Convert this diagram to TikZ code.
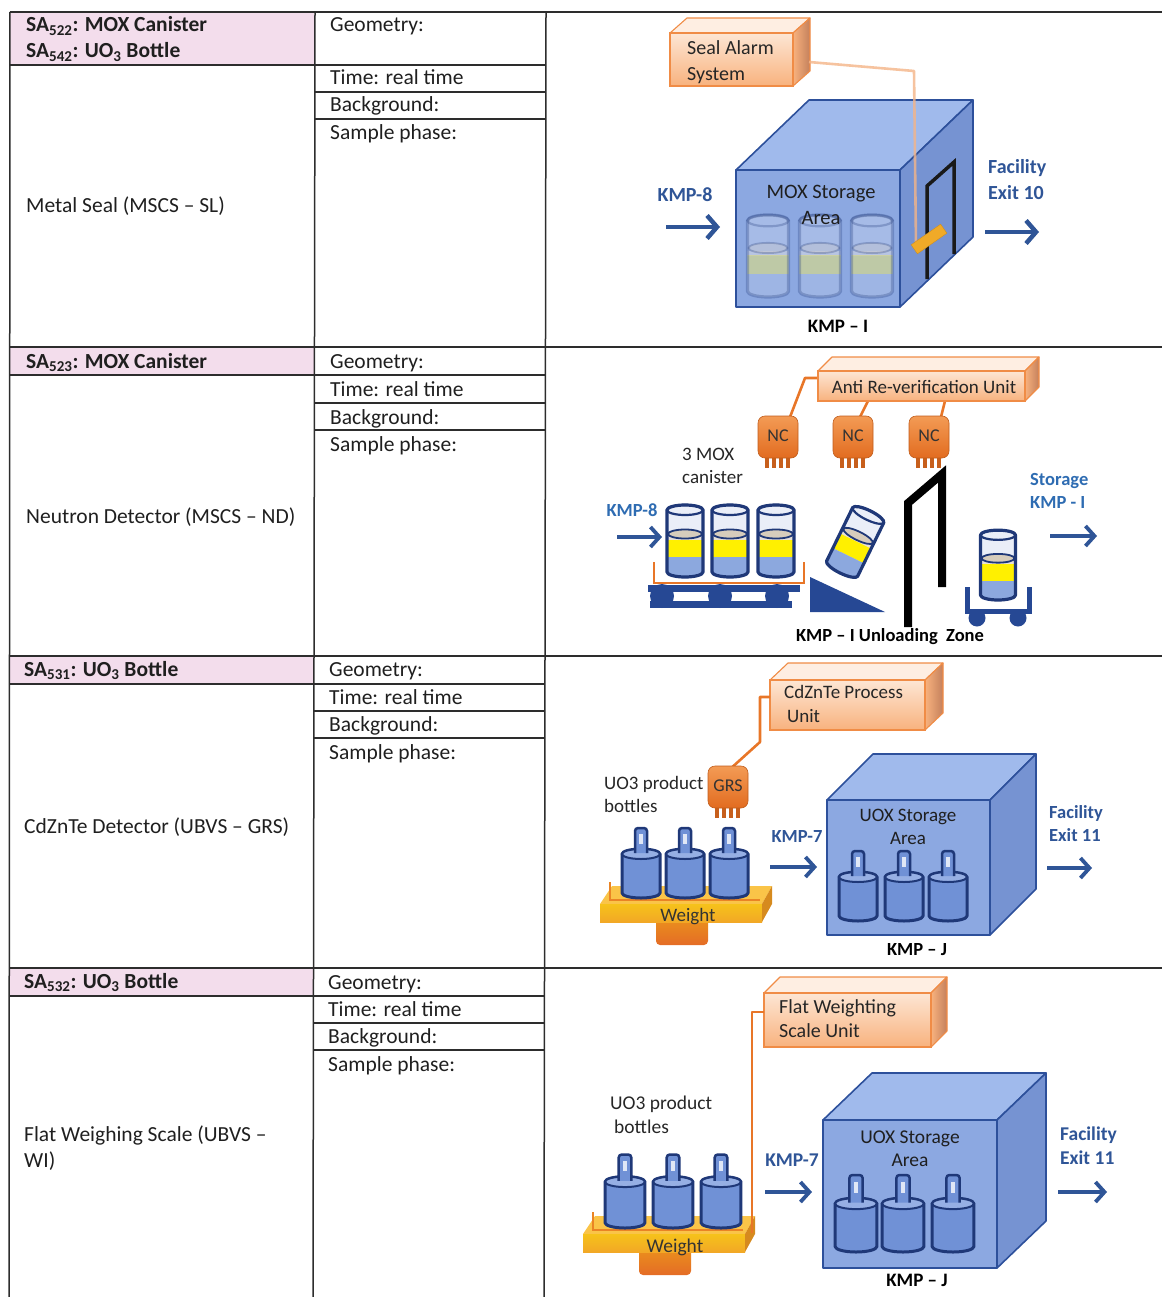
\documentclass[tikz,border=0pt]{standalone}
\usepackage{fontspec}
\setmainfont{Carlito}
\usetikzlibrary{arrows.meta,calc}

\definecolor{gridline}{RGB}{45,45,45}
\definecolor{headpink}{RGB}{243,221,236}
\definecolor{kblue}{RGB}{47,85,151}
\definecolor{kblueL}{RGB}{46,108,178}
\definecolor{navy}{RGB}{31,56,120}
\definecolor{cartblue}{RGB}{38,72,148}
\definecolor{cubefront}{RGB}{140,168,225}
\definecolor{cubetop}{RGB}{160,186,236}
\definecolor{cuberight}{RGB}{118,147,210}
\definecolor{cubeedge}{RGB}{45,80,155}
\definecolor{unitlight}{RGB}{253,230,212}
\definecolor{unittop}{RGB}{254,238,226}
\definecolor{unitmid}{RGB}{248,178,126}
\definecolor{unitedge}{RGB}{240,140,70}
\definecolor{unitdark}{RGB}{196,128,92}
\definecolor{wire}{RGB}{232,118,40}
\definecolor{sealwirecol}{RGB}{244,180,135}
\definecolor{ncorange}{RGB}{226,108,32}
\definecolor{nclight}{RGB}{243,155,85}
\definecolor{canyellow}{RGB}{255,240,0}
\definecolor{canblue}{RGB}{140,168,222}
\definecolor{canglass}{RGB}{234,238,248}
\definecolor{canlid}{RGB}{214,204,188}
\definecolor{bottleblue}{RGB}{112,145,214}
\definecolor{bottletop}{RGB}{150,175,228}
\definecolor{goldtop}{RGB}{250,196,72}
\definecolor{goldfront}{RGB}{242,168,38}
\definecolor{goldside}{RGB}{214,138,30}
\definecolor{basecol}{RGB}{228,108,38}
\definecolor{tagcol}{RGB}{240,170,40}

\tikzset{
  gridl/.style={line width=1.5pt, draw=gridline},
  celltxt/.style={anchor=base west, inner sep=0pt, font=\fontsize{21.5}{26}\selectfont, text=black!88},
  headtxt/.style={celltxt, font=\fontsize{21.5}{26}\selectfont\bfseries},
  flowlbl/.style={inner sep=0pt, align=left, font=\fontsize{20}{26}\selectfont\bfseries, text=kblue},
  flowlbls/.style={inner sep=0pt, align=left, font=\fontsize{18.5}{23}\selectfont\bfseries, text=kblueL},
  darklbl/.style={inner sep=0pt, align=left, font=\fontsize{19}{23.5}\selectfont, text=black!85},
  cubetxt/.style={inner sep=0pt, align=center, text=black!88},
  kmplbl/.style={inner sep=0pt, font=\fontsize{19}{23}\selectfont\bfseries, text=black},
  unittxt/.style={inner sep=0pt, align=left, text=black!85},
  flow/.style={draw=kblue, line width=4.5pt, -{Straight Barb[length=10pt,width=23pt]}},
  flowthin/.style={draw=kblue, line width=3.8pt, -{Straight Barb[length=9pt,width=20pt]}},
  cubeface/.style={draw=cubeedge, line width=1.6pt, line join=round},
  unitfront/.style={draw=unitedge, line width=1.1pt, top color=unitlight, bottom color=unitmid, inner sep=0pt},
  wirestyle/.style={draw=wire, line width=2.6pt, line join=round},
  tagstyle/.style={fill=tagcol, draw=tagcol!85!black, line width=0.4pt, minimum width=36pt, minimum height=11pt, inner sep=0pt},
  canister/.pic={
    \fill[canglass] (-18,-67) -- (-18,-5) arc[start angle=180,end angle=0,x radius=18,y radius=5]
      -- (18,-67) arc[start angle=0,end angle=-180,x radius=18,y radius=5] -- cycle;
    \begin{scope}
      \clip (-18,-67) -- (-18,-5) arc[start angle=180,end angle=0,x radius=18,y radius=5]
        -- (18,-67) arc[start angle=0,end angle=-180,x radius=18,y radius=5] -- cycle;
      \fill[canlid!60!white] (-20,-40) rectangle (20,-36);
      \fill[canyellow] (-20,-37) rectangle (20,-20);
      \fill[canblue] (-20,-20) rectangle (20,2);
    \end{scope}
    \filldraw[draw=navy, line width=1.8pt, fill=canlid] (0,-43) ellipse[x radius=17, y radius=4.5];
    \draw[navy, line width=3.2pt, line join=round] (-18,-67) -- (-18,-5) arc[start angle=180,end angle=0,x radius=18,y radius=5]
      -- (18,-67) arc[start angle=0,end angle=-180,x radius=18,y radius=5] -- cycle;
    \draw[navy, line width=2.2pt] (0,-67) ellipse[x radius=18, y radius=5];
  },
  bottle/.pic={
    \filldraw[fill=bottleblue, draw=navy, line width=3pt, line join=round]
      (-19,-44) -- (-19,-5) arc[start angle=180,end angle=0,x radius=19,y radius=5]
      -- (19,-44) arc[start angle=0,end angle=-180,x radius=19,y radius=5] -- cycle;
    \filldraw[fill=bottletop, draw=navy, line width=2pt] (0,-44) ellipse[x radius=19, y radius=5];
    \filldraw[fill=bottleblue, draw=navy, line width=2.5pt, rounded corners=3pt] (-6,-45) -- (-6,-70) -- (6,-70) -- (6,-45);
    \fill[white!78!bottleblue] (-2,-64) rectangle (2,-54);
  },
  ncbody/.pic={
    \foreach \lx in {-11,-4,3,10} \fill[ncorange!88!black] (\lx-1.8,-2) rectangle (\lx+1.8,10);
    \shadedraw[top color=nclight, bottom color=ncorange, draw=ncorange!85!black, line width=0.6pt, rounded corners=7pt]
      (-20,-42) rectangle (20,0);
  },
  scalebed/.pic={
    \shade[top color=basecol!75!yellow, bottom color=basecol, rounded corners=4pt] (56,-4) rectangle (108,23);
    \fill[goldtop] (12,-36) -- (172,-36) -- (162,-18) -- (0,-18) -- cycle;
    \shade[top color=goldfront!70!yellow, bottom color=goldfront] (0,-18) rectangle (162,0);
    \fill[goldside] (162,-18) -- (172,-36) -- (172,-18) -- (162,0) -- cycle;
    \draw[wire!90!yellow, line width=1.2pt] (10,-40) -- (10,-22) -- (160,-22);
  }
}

% three-dimensional storage room: front face corners and depth
\newcommand\storecube[6]{%
  \filldraw[cubeface, fill=cubetop] (#1,#2) -- (#1+#5,#2-#6) -- (#3+#5,#2-#6) -- (#3,#2) -- cycle;
  \filldraw[cubeface, fill=cuberight] (#3,#2) -- (#3+#5,#2-#6) -- (#3+#5,#4-#6) -- (#3,#4) -- cycle;
  \filldraw[cubeface, fill=cubefront] (#1,#2) rectangle (#3,#4);
}
% top and side faces of an orange processing unit
\newcommand\unitfaces[6]{%
  \filldraw[draw=unitedge, line width=1.1pt, fill=unittop, line join=round]
    (#1,#2) -- (#1+#5,#2-#6) -- (#3+#5,#2-#6) -- (#3,#2) -- cycle;
  \shadedraw[draw=unitedge, line width=1.1pt, left color=unitmid, right color=unitdark, line join=round]
    (#3,#2) -- (#3+#5,#2-#6) -- (#3+#5,#4-#6) -- (#3,#4) -- cycle;
}

\begin{document}
\begin{tikzpicture}[x=1pt,y=-1pt]
\useasboundingbox (0,0) rectangle (1162,1297);

%% ---------------- table ----------------
\fill[headpink] (10,12) rectangle (314,65);
\fill[headpink] (10,347) rectangle (314,375);
\fill[headpink] (10,656) rectangle (314,684);
\fill[headpink] (10,968) rectangle (314,996);

\draw[gridl] (10,12) -- (1162,12);
\foreach \yy in {347,656,968} \draw[gridl] (10,\yy) -- (1162,\yy);
\foreach \yy in {65,375,684,996} \draw[gridl] (10,\yy) -- (545,\yy);
\foreach \yy in {92,119,403,430,711,738,1023,1050} \draw[gridl] (314,\yy) -- (545,\yy);
\draw[gridl] (10,12) -- (9,1297);
\draw[gridl] (315,12) -- (313,1297);
\draw[gridl] (546,12) -- (544,1297);

% row 1
\node[headtxt] (h1a) at (26,32) {SA\textsubscript{522}: MOX Canister};
\node[headtxt] (h1b) at (26,58) {SA\textsubscript{542}: UO\textsubscript{3} Bottle};
\node[celltxt] (g1) at (330,32) {Geometry:};
\node[celltxt] (t1) at (330,85) {Time: real time};
\node[celltxt] (b1) at (330,112) {Background:};
\node[celltxt] (s1) at (330,140) {Sample phase:};
\node[celltxt] (d1) at (26,213) {Metal Seal (MSCS – SL)};
% row 2
\node[headtxt] (h2) at (26,368) {SA\textsubscript{523}: MOX Canister};
\node[celltxt] (g2) at (330,368) {Geometry:};
\node[celltxt] (t2) at (330,396) {Time: real time};
\node[celltxt] (b2) at (330,424) {Background:};
\node[celltxt] (s2) at (330,451) {Sample phase:};
\node[celltxt] (d2) at (26,523) {Neutron Detector (MSCS – ND)};
% row 3
\node[headtxt] (h3) at (24,676) {SA\textsubscript{531}: UO\textsubscript{3} Bottle};
\node[celltxt] (g3) at (329,676) {Geometry:};
\node[celltxt] (t3) at (329,704) {Time: real time};
\node[celltxt] (b3) at (329,731) {Background:};
\node[celltxt] (s3) at (329,759) {Sample phase:};
\node[celltxt] (d3) at (24,833) {CdZnTe Detector (UBVS – GRS)};
% row 4
\node[headtxt] (h4) at (24,988) {SA\textsubscript{532}: UO\textsubscript{3} Bottle};
\node[celltxt] (g4) at (328,989) {Geometry:};
\node[celltxt] (t4) at (328,1016) {Time: real time};
\node[celltxt] (b4) at (328,1043) {Background:};
\node[celltxt] (s4) at (328,1071) {Sample phase:};
\node[celltxt] (d4a) at (24,1141) {Flat Weighing Scale (UBVS –};
\node[celltxt] (d4b) at (24,1167) {WI)};

%% ---------------- metal seal ----------------
\unitfaces{670}{33}{793}{86}{17}{15}
\node[unitfront, minimum width=123pt, minimum height=53pt] (seal) at (731.5,59.5) {};
\node[unittxt, anchor=west, font=\fontsize{20}{26}\selectfont] (sealtxt) at (687,62) {Seal Alarm\\System};

\storecube{736}{170}{900}{307}{73}{70}
\begin{scope}[opacity=0.28]
  \pic[scale=1.14] at (768,297) {canister};
  \pic[scale=1.14] at (820,297) {canister};
  \pic[scale=1.14] at (872,297) {canister};
\end{scope}
\node[cubetxt, font=\fontsize{20.5}{26}\selectfont] (moxarea) at (821,205) {MOX Storage\\Area};
\draw[line width=3.5pt, black!90, line join=miter] (927,279) -- (927,186) -- (954,162) -- (954,254);
\coordinate (sealport) at (809,62);
\coordinate (sealbend) at (914,71);
\coordinate (sealend) at (916,246);
\draw[sealwirecol, line width=2.6pt, opacity=0.8, line join=round] (sealport) -- (sealbend) -- (sealend);
\node[tagstyle, rotate=35] (tag) at (929,239) {};

\node[flowlbl] (kmp8a) at (685,195) {KMP-8};
\coordinate (in1a) at (666,227); \coordinate (in1b) at (720,227);
\draw[flow] (in1a) -- (in1b);
\node[flowlbl, anchor=west] (exit10) at (988,180) {Facility\\Exit 10};
\coordinate (out1a) at (985,232); \coordinate (out1b) at (1039,232);
\draw[flow] (out1a) -- (out1b);
\node[kmplbl] (kmpi) at (838,326) {KMP – I};

%% ---------------- neutron detector ----------------
\coordinate (w1a) at (818,378); \coordinate (w1b) at (805,378); \coordinate (w1c) at (790,417);
\coordinate (w2a) at (868,401); \coordinate (w2c) at (860,417);
\coordinate (w3a) at (945,401); \coordinate (w3c) at (941,417);
\draw[wirestyle] (w1a) -- (w1b) -- (w1c);
\draw[wirestyle] (w2a) -- (w2c);
\draw[wirestyle] (w3a) -- (w3c);
\unitfaces{818}{371}{1025}{401}{14}{14}
\node[unitfront, minimum width=207pt, minimum height=30pt] (anti) at (921.5,386) {};
\node[unittxt, font=\fontsize{19}{23}\selectfont] (antitxt) at (924,387) {Anti Re-verification Unit};

\pic at (778,458) {ncbody};
\pic at (853,458) {ncbody};
\pic at (929,458) {ncbody};
\node[unittxt, font=\fontsize{18}{22}\selectfont, text=black!80] (nc1) at (778,436) {NC};
\node[unittxt, font=\fontsize{18}{22}\selectfont, text=black!80] (nc2) at (853,436) {NC};
\node[unittxt, font=\fontsize{18}{22}\selectfont, text=black!80] (nc3) at (929,436) {NC};

\node[darklbl, anchor=west] (mox3) at (682,466) {3 MOX\\canister};
\node[flowlbls] (kmp8b) at (632,510) {KMP-8};
\coordinate (in2a) at (617,537); \coordinate (in2b) at (662,537);
\draw[flowthin] (in2a) -- (in2b);

% loaded cart
\pic at (685,577) {canister};
\pic at (730,577) {canister};
\pic at (776,577) {canister};
\draw[wire, line width=2.8pt] (654,562) -- (654,583) -- (804,583) -- (804,562);
\fill[cartblue] (648,585) rectangle (800,592);
\fill[cartblue] (650,601) rectangle (792,608);
\foreach \wx in {662,720,777} \fill[cartblue] (\wx,596) circle[radius=12];
% tipping wedge and tilted canister
\fill[cartblue] (810,577) -- (810,612) -- (885,612) -- cycle;
\pic[rotate=-26, scale=0.96] at (840,573) {canister};
% gate
\draw[line width=8pt, black, line join=miter] (908,627) -- (908,503) -- (942,474) -- (942,587);
% trolley
\pic[scale=0.97] at (998,600) {canister};
\draw[cartblue, line width=5pt, line join=miter] (967,587) -- (967,611) -- (1029,611) -- (1029,587);
\fill[cartblue] (977,618) circle[radius=8.5];
\fill[cartblue] (1018,618) circle[radius=8.5];

\node[flowlbls, anchor=west] (stor) at (1030,490.5) {Storage\\KMP - I};
\coordinate (out2a) at (1050,536); \coordinate (out2b) at (1097,536);
\draw[flowthin] (out2a) -- (out2b);
\node[kmplbl, font=\fontsize{18.5}{22}\selectfont\bfseries] (unload) at (890,637) {KMP – I Unloading\ \ Zone};

%% ---------------- CdZnTe detector ----------------
\unitfaces{770}{680}{925}{730}{18}{17}
\node[unitfront, minimum width=155pt, minimum height=50pt] (cdzn) at (847.5,705) {};
\node[unittxt, anchor=west, font=\fontsize{19}{24}\selectfont] (cdzntxt) at (784,704) {CdZnTe Process\\\hspace{3pt}Unit};
\coordinate (w4a) at (770,697); \coordinate (w4b) at (760,697);
\coordinate (w4c) at (760,742); \coordinate (w4d) at (729,770);
\coordinate (w4e) at (729,778);
\draw[wirestyle] (w4a) -- (w4b) -- (w4c) -- (w4d) -- (w4e);
\begin{scope}[shift={(728,808)}, xscale=0.95, yscale=0.8]
  \pic {ncbody};
\end{scope}
\node[unittxt, font=\fontsize{18}{22}\selectfont, text=black!80] (grs) at (728,786) {GRS};
\node[darklbl, anchor=west] (uo3a) at (604,794.5) {UO3 product\\bottles};

\pic at (600,922) {scalebed};
\pic at (641,898) {bottle};
\pic at (685,898) {bottle};
\pic at (729,898) {bottle};
\node[unittxt, font=\fontsize{19}{22}\selectfont, text=black!80] (wt1) at (688,917) {Weight};

\node[flowlbls, text=kblue] (kmp7a) at (797,836) {KMP-7};
\coordinate (in3a) at (770,867); \coordinate (in3b) at (817,867);
\draw[flowthin] (in3a) -- (in3b);

\storecube{827}{800}{990}{935}{46}{46}
\node[cubetxt, font=\fontsize{19}{23}\selectfont] (uoxa) at (908,826.5) {UOX Storage\\Area};
\pic at (858,921) {bottle};
\pic at (904,921) {bottle};
\pic at (948,921) {bottle};
\node[flowlbls, text=kblue, anchor=west] (exit11a) at (1049,823.5) {Facility\\Exit 11};
\coordinate (out3a) at (1047,868); \coordinate (out3b) at (1092,868);
\draw[flowthin] (out3a) -- (out3b);
\node[kmplbl, font=\fontsize{18.5}{22}\selectfont\bfseries] (kmpj1) at (917,950) {KMP – J};

%% ---------------- flat weighing scale ----------------
\unitfaces{764}{993}{931}{1047}{16}{16}
\node[unitfront, minimum width=167pt, minimum height=54pt] (flat) at (847.5,1020) {};
\node[unittxt, anchor=west, font=\fontsize{20}{24}\selectfont] (flattxt) at (779,1019) {Flat Weighting\\Scale Unit};
\node[darklbl, anchor=west, font=\fontsize{19.5}{24}\selectfont] (uo3b) at (610,1115) {UO3 product\\\hspace{4pt}bottles};

\begin{scope}[shift={(583,1252)}, xscale=1.04, yscale=0.95]
  \pic {scalebed};
\end{scope}
\coordinate (w5a) at (764,1012); \coordinate (w5b) at (752,1012); \coordinate (w5c) at (752,1233);
\draw[wirestyle] (w5a) -- (w5b) -- (w5c);
\pic[scale=1.05] at (625,1228) {bottle};
\pic[scale=1.05] at (673,1228) {bottle};
\pic[scale=1.05] at (721,1228) {bottle};
\node[unittxt, font=\fontsize{19.5}{22}\selectfont, text=black!80] (wt2) at (675,1247) {Weight};

\node[flowlbl, font=\fontsize{19.5}{24}\selectfont\bfseries] (kmp7b) at (792,1160) {KMP-7};
\coordinate (in4a) at (765,1192); \coordinate (in4b) at (812,1192);
\draw[flowthin] (in4a) -- (in4b);

\storecube{823}{1120}{997}{1268}{49}{47}
\node[cubetxt, font=\fontsize{19.5}{23.5}\selectfont] (uoxb) at (910,1148.5) {UOX Storage\\Area};
\pic[scale=1.1] at (856,1252) {bottle};
\pic[scale=1.1] at (903,1252) {bottle};
\pic[scale=1.1] at (953,1252) {bottle};
\node[flowlbl, font=\fontsize{19.5}{24}\selectfont\bfseries, anchor=west] (exit11b) at (1060,1146) {Facility\\Exit 11};
\coordinate (out4a) at (1058,1192); \coordinate (out4b) at (1107,1192);
\draw[flowthin] (out4a) -- (out4b);
\node[kmplbl] (kmpj2) at (917,1280) {KMP – J};

\end{tikzpicture}
\end{document}
